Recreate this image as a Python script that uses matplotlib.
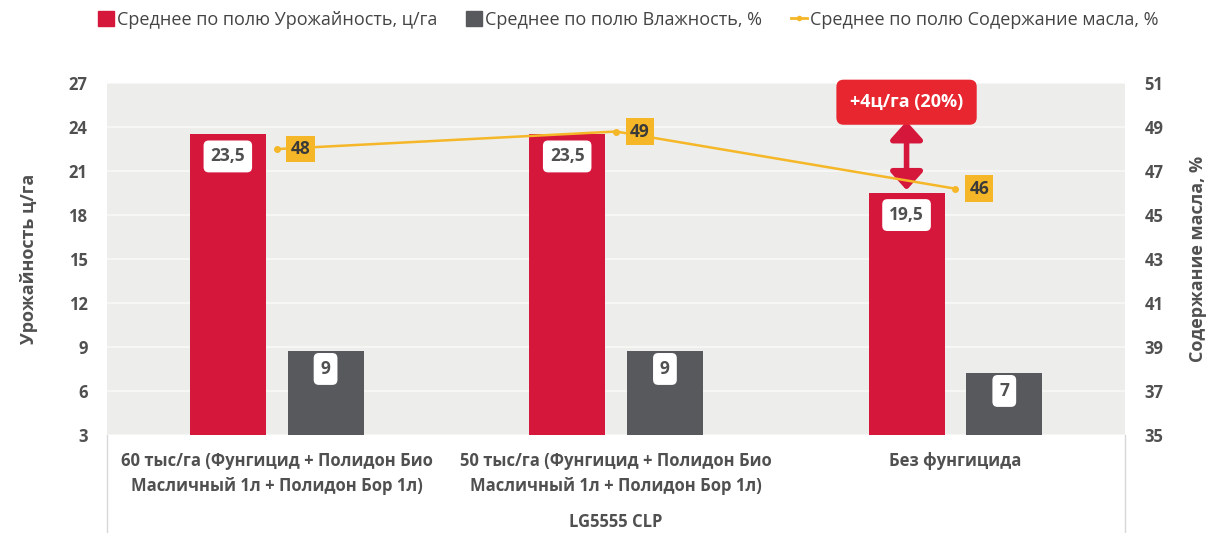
import numpy as np
import matplotlib.pyplot as plt
from matplotlib.lines import Line2D
from matplotlib.patches import Patch

# ─── data ──────────────────────────────────────────────
categories = ['60 тыс/га (Фунгицид + Полидон Био\nМасличный 1л + Полидон Бор 1л)',
              '50 тыс/га (Фунгицид + Полидон Био\nМасличный 1л + Полидон Бор 1л)',
              'Без фунгицида']
group_label = 'LG5555 CLP'
yield_vals = [23.5, 23.5, 19.5]
yield_lbls = ['23,5', '23,5', '19,5']
moist_vals = [8.7, 8.7, 7.2]
moist_lbls = ['9', '9', '7']
oil_vals = [48.0, 48.8, 46.2]
oil_lbls = ['48', '49', '46']
series_names = ['Среднее по полю Урожайность, ц/га',
                'Среднее по полю Влажность, %',
                'Среднее по полю Содержание масла, %']
note_text = '+4ц/га (20%)'

# ─── style ─────────────────────────────────────────────
plt.rcParams['font.family'] = ['Open Sans', 'DejaVu Sans']
RED, GREY, YEL = '#D6173C', '#58595D', '#F5B727'
TXT = '#505050'

fig = plt.figure(figsize=(12.12, 5.33), dpi=100)
ax = fig.add_axes([0.0883, 0.184, 0.8400, 0.660])
ax2 = ax.twinx()

x = np.arange(len(categories))
w, off = 0.224, 0.144

ax.set_facecolor('#EDEDEB')
ax.set_xlim(-0.5, 2.5)
ax.set_ylim(3, 27)
ax.set_yticks(np.arange(3, 28, 3))
ax.grid(axis='y', color='#F8F8F6', lw=1.2)
ax.set_axisbelow(True)
for s in ax.spines.values():
    s.set_visible(False)
for s in ax2.spines.values():
    s.set_visible(False)

ax.bar(x - off, np.array(yield_vals) - 3, w, bottom=3, color=RED, zorder=2)
ax.bar(x + off, np.array(moist_vals) - 3, w, bottom=3, color=GREY, zorder=2)

box = dict(boxstyle='round,pad=0.4,rounding_size=0.3', fc='white', ec='none')
for xi, v, l in zip(x, yield_vals, yield_lbls):
    ax.text(xi - off, v - 1.5, l, ha='center', va='center', fontsize=12.5,
            fontweight='bold', color=TXT, bbox=box, zorder=4)
for xi, v, l in zip(x, moist_vals, moist_lbls):
    ax.text(xi + off, v - 1.2, l, ha='center', va='center', fontsize=12.5,
            fontweight='bold', color=TXT, bbox=box, zorder=4)

ax2.set_ylim(35, 51)
ax2.set_yticks(np.arange(35, 52, 2))
ax2.plot(x, oil_vals, color=YEL, lw=1.8, marker='o', ms=4, zorder=5)
ybox = dict(boxstyle='square,pad=0.25', fc=YEL, ec='none')
for xi, v, l in zip(x, oil_vals, oil_lbls):
    ax2.text(xi + 0.07, v, l, ha='center', va='center', fontsize=12.5,
             fontweight='bold', color='#3A3A3A', bbox=ybox, zorder=6)

for a in (ax, ax2):
    a.tick_params(length=0, labelsize=12, labelcolor=TXT, pad=14)
    for t in a.get_yticklabels():
        t.set_fontweight('bold')
ax.set_xticks(x)
ax.set_xticklabels(categories, fontsize=12, fontweight='bold', color=TXT,
                   linespacing=1.5)
ax.tick_params(axis='x', pad=12)

ax.set_ylabel('Урожайность ц/га', fontsize=13, fontweight='bold', color=TXT, labelpad=22)
ax2.set_ylabel('Содержание масла, %', fontsize=13, fontweight='bold', color=TXT, labelpad=18)

# group label and table borders
ax.text(1, -0.247, group_label, transform=ax.get_xaxis_transform(), ha='center',
        va='center', fontsize=12, fontweight='bold', color=TXT)
for xb in (-0.5, 2.5):
    ax.add_line(Line2D([xb, xb], [0, -0.29], transform=ax.get_xaxis_transform(),
                       color='#D8D8D8', lw=1, clip_on=False))

# annotation
xr = 2 - off
ax.annotate('', xy=(xr, yield_vals[2] + 0.2), xytext=(xr, 24.4),
            arrowprops=dict(arrowstyle='<|-|>,head_length=0.5,head_width=0.45',
                            color=RED, lw=4, mutation_scale=22,
                            shrinkA=0, shrinkB=0), zorder=6)
ax.text(xr, 25.7, note_text, ha='center', va='center', fontsize=13, fontweight='bold',
        color='white', clip_on=False, zorder=7,
        bbox=dict(boxstyle='round,pad=0.75,rounding_size=0.4', fc='#E8262F', ec='none'))

handles = [Patch(color=RED), Patch(color=GREY),
           Line2D([], [], color=YEL, lw=2, marker='o', ms=3)]
fig.legend(handles, series_names, loc='center', bbox_to_anchor=(0.518, 0.963), ncol=3,
           frameon=False, fontsize=13, handlelength=0.9, handleheight=0.9,
           columnspacing=1.6, handletextpad=0.15, labelcolor='#444444')

fig.savefig('out.png', dpi=100, facecolor='white')
